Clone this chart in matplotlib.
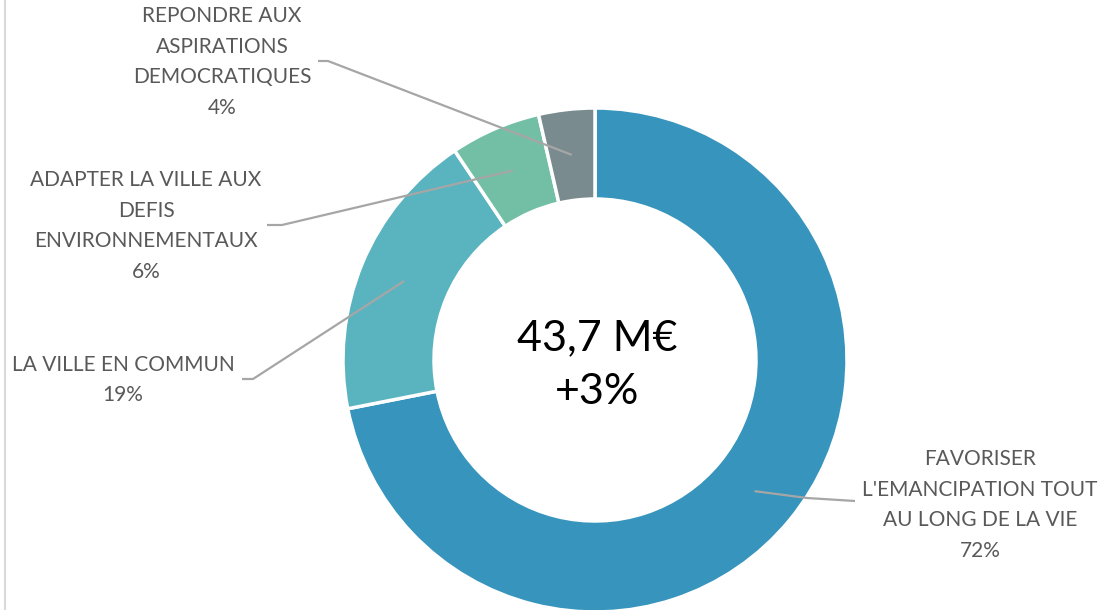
import numpy as np
import matplotlib.pyplot as plt

# budget split, clockwise from the top
labels = ["FAVORISER\nL'EMANCIPATION TOUT\nAU LONG DE LA VIE",
          "LA VILLE EN COMMUN",
          "ADAPTER LA VILLE AUX\nDEFIS\nENVIRONNEMENTAUX",
          "REPONDRE AUX\nASPIRATIONS\nDEMOCRATIQUES"]
shares = [71.9, 18.7, 5.8, 3.6]
colors = ['#3794BC', '#5AB4C0', '#72BFA6', '#798B8E']
total_txt = '43,7 M€'
change_txt = '+3%'

W, H = 1102, 610
plt.rcParams['font.family'] = ['Lato', 'DejaVu Sans']

fig = plt.figure(figsize=(W / 100, H / 100), dpi=100)
ax = fig.add_axes([0, 0, 1, 1])

cx, cy, r, ring = 595, H - 360, 252, 91
wedges, _ = ax.pie(shares, colors=colors, startangle=90, counterclock=False,
                   center=(cx, cy), radius=r, frame=True,
                   wedgeprops=dict(width=ring, edgecolor='white', linewidth=2.5))
ax.set_xlim(0, W)
ax.set_ylim(0, H)
ax.axis('off')

# label blocks: text centre, elbow points (layout only)
label_pos = [(980, H - 505), (123, H - 380), (146, H - 226), (222, H - 62)]
elbows = [[(855, H - 501), (807, H - 498)],
          [(242, H - 379), (253, H - 379)],
          [(267, H - 225), (282, H - 225)],
          [(318, H - 61), (328, H - 61)]]

for w, lab, s, (tx, ty), elb in zip(wedges, labels, shares, label_pos, elbows):
    ang = np.deg2rad((w.theta1 + w.theta2) / 2)
    rm = r - ring / 2
    px, py = cx + rm * np.cos(ang), cy + rm * np.sin(ang)
    xs = [p[0] for p in elb] + [px]
    ys = [p[1] for p in elb] + [py]
    ax.plot(xs, ys, color='#A6A6A6', lw=1.6, solid_capstyle='butt')
    ax.text(tx, ty, lab + '\n' + f'{round(s)}%', ha='center', va='center',
            fontsize=15, color='#595959', linespacing=1.65)

ax.text(cx + 2, H - 338, total_txt, ha='center', va='center', fontsize=31, color='black')
ax.text(cx + 2, H - 392, change_txt, ha='center', va='center', fontsize=31, color='black')

ax.plot([5, 5], [0, H], color='#D9D9D9', lw=1.5)

fig.savefig('out.png', dpi=100, facecolor='white')
